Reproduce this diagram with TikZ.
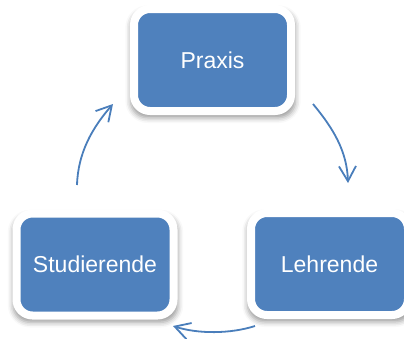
\documentclass[tikz,border=0pt]{standalone}
\usepackage{fontspec}
\setmainfont{Liberation Sans}
\usetikzlibrary{arrows.meta,shadows.blur}
\definecolor{boxblue}{HTML}{4F81BD}
\definecolor{arrowblue}{HTML}{4A7EBB}
\tikzset{
  cyclebox/.style={rectangle, rounded corners=16pt, fill=boxblue, draw=white,
    line width=8pt, minimum width=157pt, minimum height=102pt, inner sep=0pt,
    text=white, font=\fontsize{23}{27}\selectfont,
    blur shadow={shadow xshift=0.5pt, shadow yshift=-4pt, shadow scale=1.05, shadow blur radius=5pt, shadow opacity=40}},
  cyclearrow/.style={draw=arrowblue, line width=1.8pt,
    -{Straight Barb[length=15pt, width=17pt, line width=1.8pt]}}
}
\begin{document}
\begin{tikzpicture}[x=1pt, y=-1pt]
\useasboundingbox (0,0) rectangle (404,338);
\node[cyclebox] (praxis) at (212.5,60) {Praxis};
\node[cyclebox] (stud) at (95,264.5) {Studierende};
\node[cyclebox] (lehr) at (329.5,264) {Lehrende};
\coordinate (a1s) at (77,185);
\coordinate (a1e) at (113,104);
\coordinate (a2s) at (313,104);
\coordinate (a2e) at (348,183);
\coordinate (a3s) at (255,326);
\coordinate (a3e) at (173,326);
\draw[cyclearrow] (a1s) .. controls (78,153) and (92,128) .. (a1e);
\draw[cyclearrow] (a2s) .. controls (333,128) and (347,151) .. (a2e);
\draw[cyclearrow] (a3s) .. controls (230,334) and (198,334) .. (a3e);
\end{tikzpicture}
\end{document}
